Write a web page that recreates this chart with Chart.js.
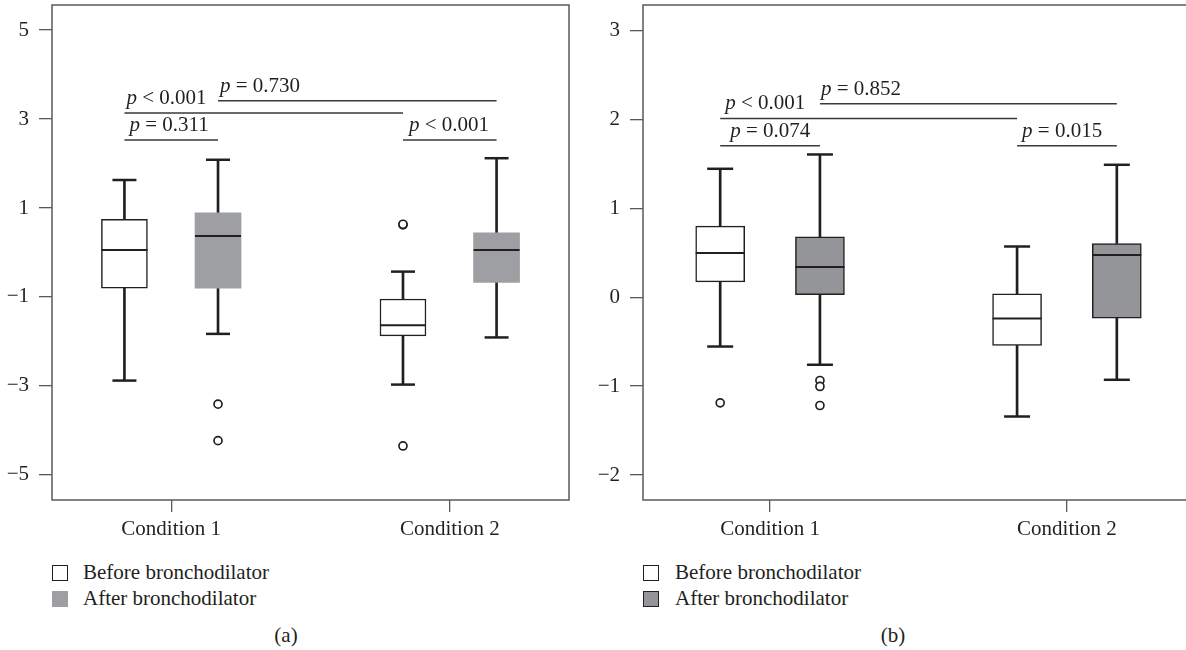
<!DOCTYPE html>
<html>
<head>
<meta charset="utf-8">
<script src="https://cdn.jsdelivr.net/npm/chart.js@4/dist/chart.umd.min.js"></script>
<style>
  html, body { margin: 0; padding: 0; background: #ffffff; overflow: hidden; width: 1186px; height: 650px; }
  .cv { position: absolute; top: 0; }
  .leg { position: absolute; font-family: "Liberation Serif", "Times New Roman", serif; font-size: 21px; color: #231f20; height: 26px; line-height: 26px; white-space: nowrap; }
  .sq { position: absolute; width: 16px; height: 16px; box-sizing: border-box; }
  .cap { position: absolute; font-family: "Liberation Serif", "Times New Roman", serif; font-size: 21px; color: #231f20; transform: translateX(-50%); line-height: 26px; }
</style>
</head>
<body>
<canvas id="chartA" class="cv" width="580" height="540" style="left:0px"></canvas>
<canvas id="chartB" class="cv" width="614" height="540" style="left:591px"></canvas>

<div class="sq" style="left:52px;top:565px;border:1.5px solid #231f20;background:#fff"></div>
<div class="leg" id="legA1" style="left:83px;top:559px"></div>
<div class="sq" style="left:52px;top:591px;background:#9d9fa2"></div>
<div class="leg" id="legA2" style="left:83px;top:585px"></div>
<div class="cap" style="left:286px;top:622px">(a)</div>

<div class="sq" style="left:643px;top:565px;border:1.5px solid #231f20;background:#fff"></div>
<div class="leg" id="legB1" style="left:675px;top:559px"></div>
<div class="sq" style="left:643px;top:591px;border:1.5px solid #231f20;background:#939598"></div>
<div class="leg" id="legB2" style="left:675px;top:585px"></div>
<div class="cap" style="left:893px;top:622px">(b)</div>

<script>
// ---------------- DATA ----------------
const categories = ['Condition 1', 'Condition 2'];
const seriesNames = ['Before bronchodilator', 'After bronchodilator'];

// Panel (a)
const aTicks = [5, 3, 1, -1, -3, -5];
const aBeforeMin    = [-2.88, -2.97];
const aBeforeQ1     = [-0.80, -1.876];
const aBeforeMedian = [0.056, -1.636];
const aBeforeQ3     = [0.746, -1.045];
const aBeforeMax    = [1.63, -0.43];
const aBeforeOutliers = [[], [0.62, 0.635, -4.35]];
const aAfterMin    = [-1.83, -1.91];
const aAfterQ1     = [-0.80, -0.67];
const aAfterMedian = [0.37, 0.056];
const aAfterQ3     = [0.89, 0.44];
const aAfterMax    = [2.085, 2.12];
const aAfterOutliers = [[-3.41, -4.23], []];
// comparisons: [fromCategory, fromSeries, toCategory, toSeries, level, label]
const aComparisons = [
  [0, 0, 0, 1, 2.528, 'p = 0.311'],
  [0, 0, 1, 0, 3.135, 'p < 0.001'],
  [0, 1, 1, 1, 3.41,  'p = 0.730'],
  [1, 0, 1, 1, 2.528, 'p < 0.001']
];

// Panel (b)
const bTicks = [3, 2, 1, 0, -1, -2];
const bBeforeMin    = [-0.555, -1.342];
const bBeforeQ1     = [0.173, -0.543];
const bBeforeMedian = [0.496, -0.24];
const bBeforeQ3     = [0.80, 0.038];
const bBeforeMax    = [1.444, 0.57];
const bBeforeOutliers = [[-1.188], []];
const bAfterMin    = [-0.76, -0.929];
const bAfterQ1     = [0.027, -0.235];
const bAfterMedian = [0.339, 0.474];
const bAfterQ3     = [0.679, 0.604];
const bAfterMax    = [1.605, 1.489];
const bAfterOutliers = [[-0.937, -1.004, -1.218], []];
const bComparisons = [
  [0, 0, 0, 1, 1.703, 'p = 0.074'],
  [0, 0, 1, 0, 2.01,  'p < 0.001'],
  [0, 1, 1, 1, 2.175, 'p = 0.852'],
  [1, 0, 1, 1, 1.703, 'p = 0.015']
];

// ---------------- STYLE ----------------
const INK = '#231f20';
const FRAME = '#58595b';
const FONT = '"Liberation Serif", "Times New Roman", serif';
const SERIES_OFFSET = [-0.168, 0.168];
const LABEL_DX_A = [5, 2, 2, 6];
const LABEL_DX_B = [10, 5, 1, 5];

document.getElementById('legA1').textContent = seriesNames[0];
document.getElementById('legA2').textContent = seriesNames[1];
document.getElementById('legB1').textContent = seriesNames[0];
document.getElementById('legB2').textContent = seriesNames[1];

Chart.defaults.font.family = FONT;
Chart.defaults.font.size = 21;
Chart.defaults.color = INK;

function fmtTick(v) { return v < 0 ? '\u2212' + Math.abs(v) : String(v); }

function buildPanel(id, p) {
  const series = [
    { min: p.beforeMin, q1: p.beforeQ1, med: p.beforeMedian, q3: p.beforeQ3, max: p.beforeMax, out: p.beforeOutliers,
      fill: '#ffffff', border: INK, bw: 1.5 },
    { min: p.afterMin, q1: p.afterQ1, med: p.afterMedian, q3: p.afterQ3, max: p.afterMax, out: p.afterOutliers,
      fill: p.afterFill, border: p.afterBorder, bw: p.afterBorderWidth }
  ];
  const datasets = [];
  series.forEach((s, si) => {
    const xs = categories.map((c, ci) => ci + SERIES_OFFSET[si]);
    // whiskers
    const wData = [];
    xs.forEach((x, ci) => {
      wData.push({ x: x, y: [s.q3[ci], s.max[ci]] });
      wData.push({ x: x, y: [s.min[ci], s.q1[ci]] });
    });
    datasets.push({ type: 'bar', label: seriesNames[si] + ' whiskers', data: wData, grouped: false,
      barThickness: 2, backgroundColor: INK, borderWidth: 0, order: 6 });
    // boxes
    datasets.push({ type: 'bar', label: seriesNames[si], data: xs.map((x, ci) => ({ x: x, y: [s.q1[ci], s.q3[ci]] })),
      grouped: false, barThickness: p.boxW, backgroundColor: s.fill, borderColor: s.border,
      borderWidth: s.bw, borderSkipped: false, order: 5 });
    // caps
    const cData = [];
    xs.forEach((x, ci) => { cData.push({ x: x, y: s.max[ci] }); cData.push({ x: x, y: s.min[ci] }); });
    datasets.push({ type: 'scatter', label: seriesNames[si] + ' caps', data: cData, pointStyle: 'line',
      pointRadius: p.capHalf, borderColor: INK, borderWidth: 2.5, order: 2 });
    // medians
    datasets.push({ type: 'scatter', label: seriesNames[si] + ' median', data: xs.map((x, ci) => ({ x: x, y: s.med[ci] })),
      pointStyle: 'line', pointRadius: p.boxW / 2, borderColor: INK, borderWidth: 2, order: 2 });
    // outliers
    const oData = [];
    xs.forEach((x, ci) => s.out[ci].forEach(v => oData.push({ x: x, y: v })));
    datasets.push({ type: 'scatter', label: seriesNames[si] + ' outliers', data: oData, pointStyle: 'circle',
      pointRadius: 4, backgroundColor: '#ffffff', borderColor: INK, borderWidth: 1.7, order: 1 });
  });
  // comparison brackets
  const brData = [];
  p.comparisons.forEach(c => {
    const x1 = c[0] + SERIES_OFFSET[c[1]];
    const x2 = c[2] + SERIES_OFFSET[c[3]];
    brData.push({ x: x1, y: c[4] }, { x: x2, y: c[4] }, { x: x2, y: null });
  });
  datasets.push({ type: 'line', label: 'comparisons', data: brData, showLine: true, spanGaps: false,
    pointRadius: 0, borderColor: '#3a3a3a', borderWidth: 1.5, fill: false, order: 3 });

  const framePlugin = {
    id: 'frame',
    beforeDatasetsDraw(chart) {
      const { left, top, right, bottom } = chart.chartArea;
      const ctx = chart.ctx;
      ctx.save();
      ctx.strokeStyle = FRAME;
      ctx.lineWidth = 1.5;
      ctx.strokeRect(left, top, right - left, bottom - top);
      ctx.restore();
    }
  };
  const pLabelPlugin = {
    id: 'plabels',
    afterDatasetsDraw(chart) {
      const ctx = chart.ctx;
      const xs = chart.scales.x, ys = chart.scales.y;
      ctx.save();
      ctx.fillStyle = INK;
      ctx.textBaseline = 'alphabetic';
      ctx.textAlign = 'left';
      p.comparisons.forEach((c, i) => {
        const x = xs.getPixelForValue(c[0] + SERIES_OFFSET[c[1]]) + p.labelDx[i];
        const y = ys.getPixelForValue(c[4]) - 9;
        const txt = c[5];
        const first = txt.charAt(0);
        const rest = txt.slice(1);
        ctx.font = 'italic 21px ' + FONT;
        ctx.fillText(first, x, y);
        const w = ctx.measureText(first).width;
        ctx.font = '21px ' + FONT;
        ctx.fillText(rest, x + w, y);
      });
      ctx.restore();
    }
  };

  return new Chart(document.getElementById(id), {
    type: 'scatter',
    data: { datasets: datasets },
    plugins: [framePlugin, pLabelPlugin],
    options: {
      responsive: false,
      animation: false,
      events: [],
      layout: { autoPadding: false, padding: { top: 5, right: 11, bottom: 0, left: 0 } },
      plugins: { legend: { display: false }, tooltip: { enabled: false } },
      scales: {
        x: {
          type: 'linear', min: -0.428, max: 1.428, offset: false,
          afterBuildTicks(scale) { scale.ticks = categories.map((c, i) => ({ value: i })); },
          afterFit(scale) { scale.height = 40; scale.paddingLeft = 0; scale.paddingRight = 0; },
          ticks: { callback: (v) => categories[v], padding: 5, color: INK, font: { size: 21 }, maxRotation: 0, autoSkip: false },
          grid: { display: true, offset: false, drawOnChartArea: false, drawTicks: true, tickLength: 12, color: FRAME, lineWidth: 1.3 },
          border: { display: false }
        },
        y: {
          type: 'linear', min: p.yMin, max: p.yMax,
          afterBuildTicks(scale) { scale.ticks = p.ticks.map(v => ({ value: v })); },
          afterFit(scale) { scale.width = 52; scale.paddingTop = 0; scale.paddingBottom = 0; },
          ticks: { callback: (v) => fmtTick(v), padding: 10, color: INK, font: { size: 21 }, autoSkip: false },
          grid: { display: true, offset: false, drawOnChartArea: false, drawTicks: true, tickLength: 13, color: FRAME, lineWidth: 1.3 },
          border: { display: false }
        }
      }
    }
  });
}

buildPanel('chartA', {
  beforeMin: aBeforeMin, beforeQ1: aBeforeQ1, beforeMedian: aBeforeMedian, beforeQ3: aBeforeQ3, beforeMax: aBeforeMax, beforeOutliers: aBeforeOutliers,
  afterMin: aAfterMin, afterQ1: aAfterQ1, afterMedian: aAfterMedian, afterQ3: aAfterQ3, afterMax: aAfterMax, afterOutliers: aAfterOutliers,
  afterFill: '#9d9fa2', afterBorder: '#9d9fa2', afterBorderWidth: 0,
  comparisons: aComparisons, labelDx: LABEL_DX_A, ticks: aTicks, yMin: -5.565, yMax: 5.565,
  boxW: 46, capHalf: 12
});
buildPanel('chartB', {
  beforeMin: bBeforeMin, beforeQ1: bBeforeQ1, beforeMedian: bBeforeMedian, beforeQ3: bBeforeQ3, beforeMax: bBeforeMax, beforeOutliers: bBeforeOutliers,
  afterMin: bAfterMin, afterQ1: bAfterQ1, afterMedian: bAfterMedian, afterQ3: bAfterQ3, afterMax: bAfterMax, afterOutliers: bAfterOutliers,
  afterFill: '#939598', afterBorder: INK, afterBorderWidth: 1.5,
  comparisons: bComparisons, labelDx: LABEL_DX_B, ticks: bTicks, yMin: -2.281, yMax: 3.286,
  boxW: 49, capHalf: 13
});
</script>
</body>
</html>
